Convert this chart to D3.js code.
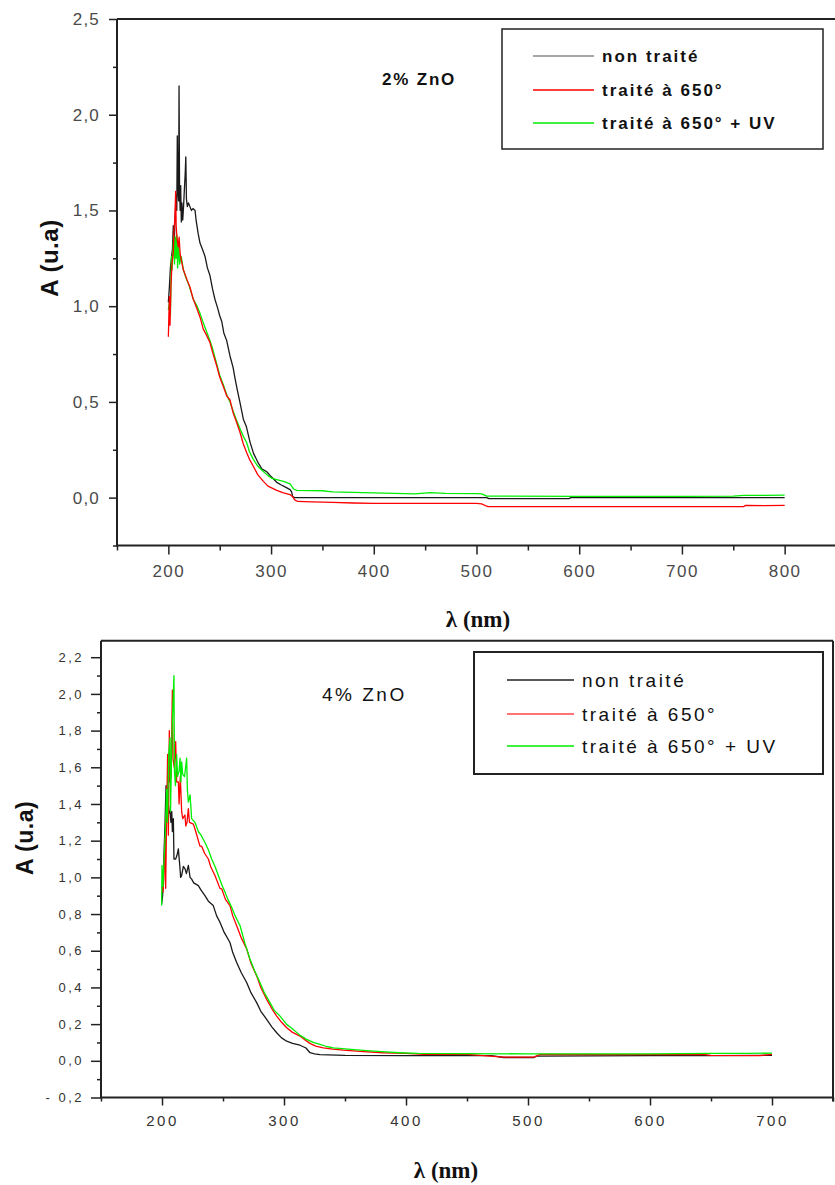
<!DOCTYPE html>
<html><head><meta charset="utf-8">
<script src="https://cdn.jsdelivr.net/npm/d3@7"></script>
<style>body{margin:0;background:#fff}</style>
</head><body>
<svg id="c" width="835" height="1185" xmlns="http://www.w3.org/2000/svg"></svg>
<script>
// ---------- DATA ----------
const seriesNames = ["non traité", "traité à 650°", "traité à 650° + UV"];
const topLabel = "2% ZnO";
const botLabel = "4% ZnO";
const yTitle = "A (u.a)";
const xTitle = "λ (nm)";

const topXMajor = [200, 300, 400, 500, 600, 700, 800];
const topXMinor = [150, 250, 350, 450, 550, 650, 750, 850];
const topYMajor = [0, 0.5, 1.0, 1.5, 2.0, 2.5];
const topYMinor = [-0.25, 0.25, 0.75, 1.25, 1.75, 2.25];

const botXMajor = [200, 300, 400, 500, 600, 700];
const botXMinor = [150, 250, 350, 450, 550, 650, 750];
const botYMajor = [-0.2, 0, 0.2, 0.4, 0.6, 0.8, 1.0, 1.2, 1.4, 1.6, 1.8, 2.0, 2.2];
const botYMinor = [-0.1, 0.1, 0.3, 0.5, 0.7, 0.9, 1.1, 1.3, 1.5, 1.7, 1.9, 2.1];

// 2% ZnO
const top_nonTraite = [[200,1.02],[201,1.1],[202,1.2],[203,1.25],[204,1.3],[204.8,1.42],[205.5,1.3],[206.5,1.45],[207.5,1.58],[208.2,1.5],[208.7,1.89],[209.3,1.6],[210,1.55],[210.4,2.15],[210.9,1.62],[211.5,1.5],[212,1.63],[212.6,1.44],[213.2,1.54],[214,1.45],[214.8,1.52],[215.5,1.6],[216.3,1.68],[217,1.78],[217.6,1.56],[218.5,1.52],[219.5,1.54],[221,1.52],[222.5,1.5],[224,1.51],[226,1.5],[227,1.45],[229,1.38],[230.8,1.33],[233,1.3],[235.7,1.26],[238,1.2],[240.5,1.16],[243,1.09],[245.4,1.035],[248,0.99],[250,0.95],[252,0.92],[254,0.86],[256.8,0.82],[260,0.74],[263,0.68],[265,0.62],[267,0.565],[270,0.49],[273,0.41],[276,0.37],[279.5,0.29],[283,0.23],[287.6,0.18],[291,0.15],[295.8,0.135],[300,0.11],[305.5,0.08],[310,0.066],[314,0.055],[318.5,0.042],[320,0.03],[321,0.005],[323,0],[400,0],[510,0],[512,-0.005],[590,-0.005],[592,0],[800,0]];
const top_traite650 = [[200,0.84],[200.5,0.95],[201,1.05],[201.6,0.9],[202.5,1.1],[203.5,1.22],[204.8,1.28],[205.5,1.4],[206.3,1.45],[207.1,1.6],[207.6,1.42],[208.5,1.35],[209.7,1.31],[210.5,1.36],[211.5,1.27],[213,1.23],[214.6,1.19],[216,1.17],[218,1.14],[221,1.1],[224,1.04],[227.6,0.99],[231,0.94],[234,0.88],[237,0.85],[240.5,0.81],[243,0.76],[247,0.69],[250,0.63],[253.5,0.58],[257,0.53],[260,0.51],[263.2,0.44],[266,0.4],[269.8,0.34],[273,0.28],[276.3,0.234],[279,0.2],[282.7,0.164],[287,0.12],[292.5,0.085],[297,0.06],[301,0.05],[305.5,0.038],[312,0.025],[318.5,0.016],[321,0.005],[323,-0.012],[326,-0.02],[340,-0.022],[360,-0.025],[380,-0.028],[400,-0.03],[450,-0.03],[500,-0.03],[505,-0.033],[510,-0.045],[512,-0.047],[760,-0.047],[762,-0.04],[780,-0.042],[800,-0.04]];
const top_traite650UV = [[200,0.98],[201,1.02],[202,0.95],[203,1.26],[203.6,1.19],[204.5,1.3],[205.2,1.37],[206,1.22],[206.8,1.36],[207.5,1.25],[208.3,1.37],[209,1.2],[210,1.33],[211,1.22],[212.5,1.26],[214.6,1.19],[217,1.15],[220,1.11],[224.4,1.035],[228,1.0],[231,0.96],[234,0.913],[237,0.87],[240.5,0.82],[243,0.78],[247,0.70],[250,0.64],[253.5,0.59],[257,0.535],[260,0.5],[263.2,0.45],[266,0.41],[269.8,0.36],[273,0.32],[276.3,0.287],[279,0.24],[282.7,0.2],[287,0.165],[292.5,0.137],[297,0.115],[301,0.1],[305.5,0.094],[312,0.085],[318.5,0.072],[320,0.06],[322,0.045],[325,0.038],[350,0.036],[360,0.03],[380,0.028],[400,0.025],[440,0.02],[455,0.026],[470,0.022],[500,0.021],[505,0.02],[510,0.008],[600,0.007],[700,0.007],[750,0.008],[760,0.012],[780,0.012],[800,0.013]];

// 4% ZnO
const bot_nonTraite = [[199.7,0.855],[200.5,0.9],[201.5,1.1],[202.5,1.3],[203.3,1.5],[203.8,1.38],[204.3,1.48],[205,1.41],[206,1.35],[206.6,1.36],[207.3,1.3],[208,1.36],[208.5,1.25],[209.3,1.32],[209.8,1.1],[211.2,1.1],[212.3,1.12],[213.4,1.155],[214.5,1.07],[215.3,1.0],[216.1,1.01],[217.5,1.06],[218.9,1.046],[220,1.02],[221.6,1.065],[223,1.0],[224.3,0.99],[226,0.97],[229.8,0.955],[232,0.93],[235.2,0.9],[238,0.87],[242,0.846],[244.8,0.79],[247.5,0.755],[251,0.70],[255.7,0.645],[258,0.59],[261.2,0.536],[265,0.48],[269.4,0.427],[273,0.37],[277.6,0.317],[281,0.27],[285.8,0.226],[290,0.185],[294,0.153],[298,0.125],[302.2,0.107],[307,0.095],[313.1,0.085],[318,0.07],[321.3,0.044],[325,0.038],[329.5,0.034],[350,0.03],[400,0.028],[470,0.028],[480,0.018],[505,0.018],[507,0.026],[600,0.028],[650,0.028],[700,0.03]];
const bot_traite650 = [[200.3,0.955],[200.8,0.92],[201.5,1.0],[202.5,1.22],[203,0.94],[203.5,1.2],[204.6,1.67],[205.2,1.23],[206,1.8],[206.6,1.52],[207.5,1.56],[208.5,2.02],[209,1.65],[210,1.6],[211.2,1.74],[212,1.52],[213.4,1.52],[214,1.4],[215,1.55],[216.1,1.36],[217,1.32],[218.8,1.34],[219.5,1.28],[220.5,1.3],[221.6,1.375],[222.5,1.3],[225.7,1.29],[227,1.265],[231.1,1.17],[232.5,1.17],[235,1.13],[238,1.1],[240,1.056],[243.4,1.01],[247.5,0.94],[249,0.937],[252,0.88],[255.7,0.846],[258,0.79],[261.2,0.736],[265,0.67],[269.4,0.61],[273,0.53],[277.6,0.463],[281,0.40],[285.8,0.335],[290,0.285],[294,0.244],[298,0.21],[302.2,0.18],[307,0.155],[313.1,0.135],[317,0.115],[321.3,0.095],[326,0.08],[332.2,0.071],[340,0.064],[348.6,0.058],[365,0.05],[381.4,0.044],[400,0.04],[415,0.035],[450,0.035],[480,0.02],[505,0.02],[510,0.035],[600,0.034],[645,0.034],[650,0.03],[690,0.028],[700,0.035]];
const bot_traite650UV = [[199.7,0.846],[200,1.065],[200.8,0.95],[201.5,1.07],[202.5,1.2],[203.8,1.48],[204.5,1.3],[205.5,1.67],[206.6,1.76],[207,1.36],[207.5,1.55],[208.5,1.85],[209.8,2.10],[210.2,1.58],[211,1.5],[212,1.67],[212.8,1.55],[214,1.58],[214.8,1.65],[215.5,1.52],[216.1,1.63],[217,1.56],[218.5,1.55],[220.2,1.65],[220.8,1.48],[221.6,1.41],[223,1.45],[224.3,1.32],[227,1.3],[229.8,1.25],[232,1.23],[235.2,1.19],[238,1.15],[240.7,1.10],[243.4,1.06],[246.2,1.01],[249,0.96],[251.6,0.92],[254,0.88],[257.1,0.837],[260,0.79],[264,0.736],[268,0.64],[272.1,0.555],[276,0.49],[280.3,0.427],[284,0.37],[288.5,0.317],[292,0.275],[296.7,0.244],[302,0.2],[307.6,0.171],[313,0.14],[318.5,0.117],[324,0.1],[329.5,0.089],[335,0.078],[340.4,0.071],[355,0.062],[367.8,0.056],[380,0.05],[395,0.044],[410,0.04],[500,0.038],[600,0.038],[650,0.04],[680,0.04],[700,0.042]];

// ---------- DRAW ----------
const svg = d3.select("#c");
svg.append("rect").attr("width", 835).attr("height", 1185).attr("fill", "#fff");

function fmt(v) {
  const s = Math.abs(v) < 1e-9 ? "0,0" : d3.format(".1f")(Math.abs(v)).replace(".", ",");
  return v < -1e-9 ? "- " + s : s;
}

function drawChart(o) {
  const g = svg.append("g");
  const x = d3.scaleLinear().domain(o.xDom).range(o.xRange);
  const y = d3.scaleLinear().domain(o.yDom).range(o.yRange);
  const [x0, x1] = o.xRange, [y0, y1] = o.yRange; // y0 bottom, y1 top

  const ax = (sel, axis) => { sel.call(axis); sel.select(".domain").remove(); sel.selectAll("line").attr("stroke", "#222").attr("stroke-width", 1.5); };
  const gxMin = g.append("g").attr("transform", `translate(0,${y0})`);
  ax(gxMin, d3.axisBottom(x).tickValues(o.xMinor).tickSize(o.xMinLen).tickFormat(""));
  const gxMaj = g.append("g").attr("transform", `translate(0,${y0})`);
  ax(gxMaj, d3.axisBottom(x).tickValues(o.xMajor).tickSize(o.xMajLen).tickPadding(o.xPad).tickFormat(d3.format("d")));
  gxMaj.selectAll("text").attr("font-family", "Liberation Sans, Arial, sans-serif")
    .attr("font-size", o.xFont).attr("letter-spacing", o.xLS).attr("fill", o.tickColor).attr("dy", "0.71em");

  const gyMin = g.append("g").attr("transform", `translate(${x0},0)`);
  ax(gyMin, d3.axisLeft(y).tickValues(o.yMinor).tickSize(o.yMinLen).tickFormat(""));
  const gyMaj = g.append("g").attr("transform", `translate(${x0},0)`);
  ax(gyMaj, d3.axisLeft(y).tickValues(o.yMajor).tickSize(o.yMajLen).tickPadding(o.yPad).tickFormat(fmt));
  gyMaj.selectAll("text").attr("font-family", "Liberation Sans, Arial, sans-serif")
    .attr("font-size", o.yFont).attr("letter-spacing", o.yLS).attr("fill", o.tickColor);

  const fr = g.append("g").attr("stroke", "#222").attr("stroke-width", 2).attr("fill", "none");
  fr.append("line").attr("x1", x0).attr("x2", x0).attr("y1", y1).attr("y2", y0 + 1);
  fr.append("line").attr("x1", x0).attr("x2", x1).attr("y1", y0).attr("y2", y0);
  fr.append("line").attr("x1", x0).attr("x2", x1).attr("y1", y1).attr("y2", y1);
  fr.append("line").attr("x1", x1).attr("x2", x1).attr("y1", y1).attr("y2", y0 + (o.rightExt || 0));

  const line = d3.line().x(d => x(d[0])).y(d => y(d[1]));
  o.order.forEach(i => {
    g.append("path").datum(o.series[i]).attr("d", line).attr("fill", "none")
      .attr("stroke", o.colors[i]).attr("stroke-width", 1.3).attr("stroke-linejoin", "round");
  });

  g.append("text").attr("x", o.ann.x).attr("y", o.ann.y).text(o.ann.text)
    .attr("font-family", "Liberation Sans, Arial, sans-serif").attr("font-size", o.ann.size)
    .attr("font-weight", o.ann.weight).attr("letter-spacing", o.ann.ls).attr("fill", "#111");

  const L = o.legend;
  g.append("rect").attr("x", L.x).attr("y", L.y).attr("width", L.w).attr("height", L.h)
    .attr("fill", "#fff").attr("stroke", "#222").attr("stroke-width", L.sw);
  seriesNames.forEach((n, i) => {
    const ry = L.rows[i];
    g.append("line").attr("x1", L.lx0).attr("x2", L.lx1).attr("y1", ry).attr("y2", ry)
      .attr("stroke", L.lineColors[i]).attr("stroke-width", 1.6);
    g.append("text").attr("x", L.tx).attr("y", ry + L.dy).text(n)
      .attr("font-family", "Liberation Sans, Arial, sans-serif").attr("font-size", L.size)
      .attr("font-weight", L.weight).attr("letter-spacing", L.ls).attr("fill", "#111");
  });

  g.append("text").attr("transform", `translate(${o.yt.x},${o.yt.y}) rotate(-90)`)
    .attr("text-anchor", "middle").attr("dy", "0.35em").text(yTitle)
    .attr("font-family", "Liberation Sans, Arial, sans-serif").attr("font-size", o.yt.size)
    .attr("font-weight", "bold").attr("letter-spacing", 0.5).attr("fill", "#111");
  g.append("text").attr("x", o.xt.x).attr("y", o.xt.y).attr("text-anchor", "middle").text(xTitle)
    .attr("font-family", "Liberation Serif, Times New Roman, serif").attr("font-size", o.xt.size)
    .attr("font-weight", "bold").attr("fill", "#111");
}

drawChart({
  xDom: [150, 850], xRange: [117, 836], yDom: [-0.25, 2.5], yRange: [545.5, 19],
  xMajor: topXMajor, xMinor: topXMinor, yMajor: topYMajor, yMinor: topYMinor,
  xMajLen: 9, xMinLen: 5, yMajLen: 8, yMinLen: 4, xPad: 10, yPad: 9,
  xFont: 17, xLS: 1.5, yFont: 17, yLS: 1.2, tickColor: "#4a4a4a",
  series: [top_nonTraite, top_traite650, top_traite650UV],
  colors: ["#1a1a1a", "#ff0000", "#00ee00"], order: [0, 2, 1],
  ann: { x: 382, y: 85, text: topLabel, size: 17, weight: "bold", ls: 1.8 },
  legend: { x: 502, y: 29, w: 321, h: 120, sw: 1.5, lx0: 533, lx1: 594, tx: 602, rows: [56, 90, 123], dy: 6,
            size: 17, weight: "bold", ls: 2, lineColors: ["#888", "#ff0000", "#00ee00"] },
  yt: { x: 50, y: 258, size: 24 },
  xt: { x: 478, y: 627, size: 23 }
});

drawChart({
  xDom: [150, 750], xRange: [101, 833], yDom: [-0.2, 2.29], yRange: [1097.5, 640.7],
  xMajor: botXMajor, xMinor: botXMinor, yMajor: botYMajor, yMinor: botYMinor,
  xMajLen: 8, xMinLen: 4, yMajLen: 10, yMinLen: 4, xPad: 10, yPad: 7,
  xFont: 15, xLS: 2.5, yFont: 13, yLS: 2.5, tickColor: "#333",
  series: [bot_nonTraite, bot_traite650, bot_traite650UV],
  colors: ["#1a1a1a", "#ff0000", "#00ee00"], order: [0, 1, 2], rightExt: 4,
  ann: { x: 322, y: 701, text: botLabel, size: 19, weight: "normal", ls: 2.5 },
  legend: { x: 474, y: 652, w: 349, h: 122, sw: 2, lx0: 507, lx1: 574, tx: 582, rows: [680, 714, 746], dy: 7,
            size: 19, weight: "normal", ls: 2.5, lineColors: ["#222", "#ff4444", "#00ee00"] },
  yt: { x: 25, y: 838, size: 23 },
  xt: { x: 446, y: 1178, size: 23 }
});
</script>
</body></html>
